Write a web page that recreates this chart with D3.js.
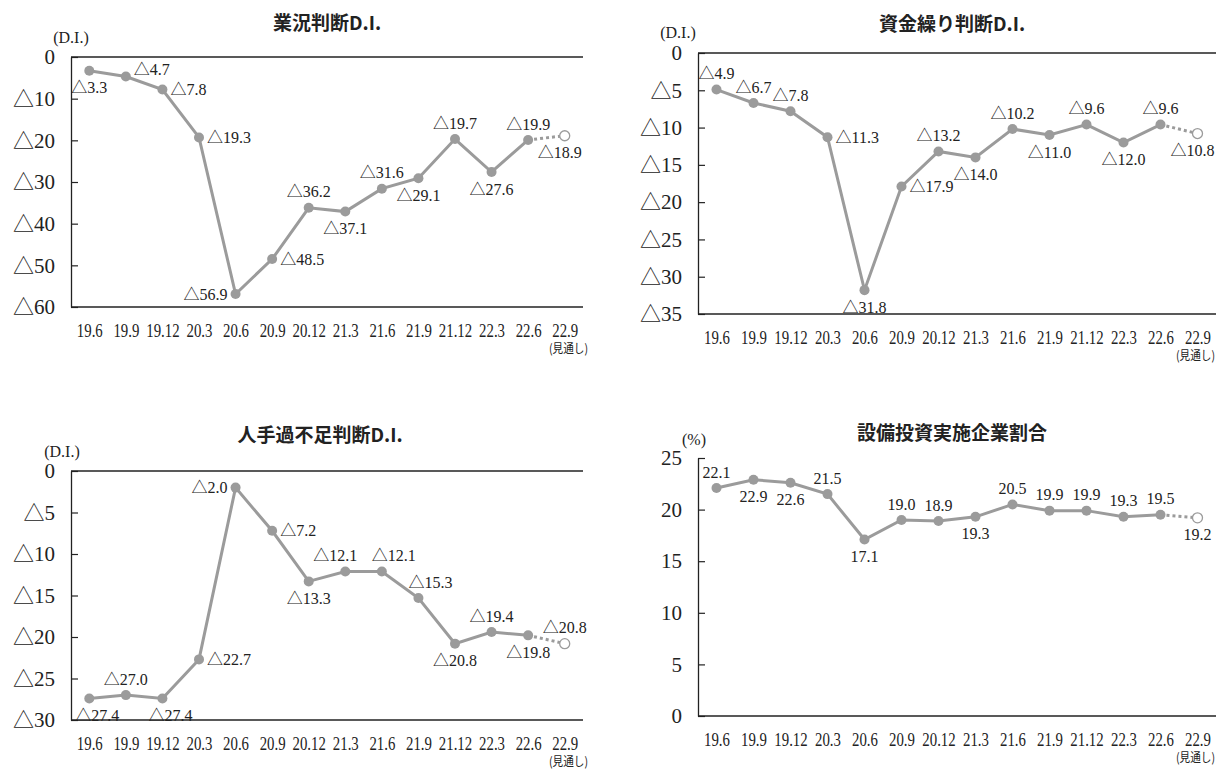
<!DOCTYPE html>
<html>
<head>
<meta charset="utf-8">
<script src="https://cdn.jsdelivr.net/npm/d3@7"></script>
<style>
  body { margin: 0; background: #fff; }
  .serif { font-family: "Liberation Serif", "Noto Sans CJK JP", serif; }
  .sans { font-family: "Noto Sans CJK JP", "Noto Sans", sans-serif; }
</style>
</head>
<body>
<script>
// periods on the x axis (last one is the outlook)
var periods = ["19.6","19.9","19.12","20.3","20.6","20.9","20.12","21.3","21.6","21.9","21.12","22.3","22.6","22.9"];

// 業況判断D.I.
var gyokyo = [-3.3,-4.7,-7.8,-19.3,-56.9,-48.5,-36.2,-37.1,-31.6,-29.1,-19.7,-27.6,-19.9,-18.9];
// 資金繰り判断D.I.
var shikin = [-4.9,-6.7,-7.8,-11.3,-31.8,-17.9,-13.2,-14.0,-10.2,-11.0,-9.6,-12.0,-9.6,-10.8];
// 人手過不足判断D.I.
var hitode = [-27.4,-27.0,-27.4,-22.7,-2.0,-7.2,-13.3,-12.1,-12.1,-15.3,-20.8,-19.4,-19.8,-20.8];
// 設備投資実施企業割合 (%)
var setsubi = [22.1,22.9,22.6,21.5,17.1,19.0,18.9,19.3,20.5,19.9,19.9,19.3,19.5,19.2];

// where each value label sits around its point
var gyokyoSide = ["b","ur","r","r","l","r","a","b","a","b","a","b","a","bl"];
var shikinSide = ["a","a","a","r","b","r","a","b","a","b","a","b","a","bl"];
var hitodeSide = ["br","a","br","r","l","r","b","al","ar","ar","b","a","b","a"];
var setsubiSide = ["a","b","b","a","b","a","a","b","a","a","a","a","a","b"];

var grey = "#9b9b9b";

var svg = d3.select("body").append("svg")
    .attr("width", 1217)
    .attr("height", 769);

function fmt(v){
    if (v < 0) return "\u25B3" + d3.format(".1f")(Math.abs(v));
    return d3.format(".1f")(v);
}

function drawPanel(cfg){
    var g = svg.append("g");

    var x = d3.scalePoint()
        .domain(periods)
        .range([cfg.left, cfg.right])
        .padding(0.5);
    var y = d3.scaleLinear()
        .domain(cfg.yDomain)
        .range([cfg.bottom, cfg.top]);

    // title
    g.append("text")
        .attr("class", "sans")
        .attr("x", cfg.titleX)
        .attr("y", cfg.titleY)
        .attr("text-anchor", "middle")
        .attr("font-weight", "bold")
        .attr("font-size", "19px")
        .attr("fill", "#222")
        .text(cfg.title);

    // unit
    g.append("text")
        .attr("class", "serif")
        .attr("x", cfg.unitX)
        .attr("y", cfg.unitY)
        .attr("text-anchor", "middle")
        .attr("font-size", "16px")
        .attr("fill", "#222")
        .text(cfg.unit);

    // y axis, ticks pointing inward
    var yAxis = d3.axisLeft(y)
        .tickValues(cfg.yTicks)
        .tickSizeInner(-7)
        .tickSizeOuter(0)
        .tickPadding(16)
        .tickFormat(function(d){ return d < 0 ? "\u25B3" + Math.abs(d) : d; });
    var ya = g.append("g")
        .attr("transform", "translate(" + cfg.left + ",0)")
        .call(yAxis);
    ya.attr("font-family", null);
    ya.select(".domain").attr("stroke", "#222").attr("stroke-width", 1.3);
    ya.selectAll(".tick line").attr("stroke", "#222").attr("stroke-width", 1.2);
    ya.selectAll(".tick text")
        .attr("class", "serif")
        .attr("font-size", "21px")
        .attr("fill", "#222");

    // horizontal lines (zero line on top for the D.I. charts, bottom line)
    var hl = cfg.topLine ? [cfg.yDomain[0], cfg.yDomain[1]] : [cfg.yDomain[0]];
    g.selectAll(".hline")
        .data(hl)
        .enter()
        .append("line")
        .attr("x1", cfg.left)
        .attr("x2", cfg.right)
        .attr("y1", function(d){ return y(d); })
        .attr("y2", function(d){ return y(d); })
        .attr("stroke", "#222")
        .attr("stroke-width", 1.3);

    // x labels
    var xAxis = d3.axisBottom(x).tickSize(0).tickPadding(0);
    var xa = g.append("g")
        .attr("transform", "translate(0," + (cfg.bottom + 23) + ")")
        .call(xAxis);
    xa.attr("font-family", null);
    xa.select(".domain").remove();
    xa.selectAll(".tick text")
        .attr("class", "serif")
        .attr("font-size", "19px")
        .attr("fill", "#222")
        .attr("dy", "0.35em")
        .attr("y", 0)
        .attr("transform", "scale(0.78,1)");

    var ex = Math.min(cfg.right + 5, 1215);
    g.append("text")
        .attr("class", "sans")
        .attr("x", ex)
        .attr("y", cfg.bottom + 46)
        .attr("text-anchor", "end")
        .attr("font-size", "12.5px")
        .attr("fill", "#222")
        .attr("transform", "translate(" + ex + ",0) scale(0.85,1) translate(" + (-ex) + ",0)")
        .text("(見通し)");

    var pts = cfg.values.map(function(v, i){ return {p: periods[i], v: v, i: i, side: cfg.side[i]}; });
    var n = pts.length;

    var line = d3.line()
        .x(function(d){ return x(d.p); })
        .y(function(d){ return y(d.v); });

    g.append("path")
        .datum(pts.slice(0, n - 1))
        .attr("d", line)
        .attr("fill", "none")
        .attr("stroke", grey)
        .attr("stroke-width", 3);

    g.append("path")
        .datum(pts.slice(n - 2))
        .attr("d", line)
        .attr("fill", "none")
        .attr("stroke", grey)
        .attr("stroke-width", 3)
        .attr("stroke-dasharray", "3,3");

    g.selectAll(".pt")
        .data(pts)
        .enter()
        .append("circle")
        .attr("cx", function(d){ return x(d.p); })
        .attr("cy", function(d){ return y(d.v); })
        .attr("r", 5)
        .attr("fill", function(d){ return d.i == n - 1 ? "#fff" : grey; })
        .attr("stroke", grey)
        .attr("stroke-width", function(d){ return d.i == n - 1 ? 1.3 : 0; });

    // value labels
    var dxBySide = {r: 8, ur: 8, l: -8, ar: 12, al: -10, bl: -5, br: 8, a: 0, b: 0};
    g.selectAll(".lbl")
        .data(pts)
        .enter()
        .append("text")
        .attr("class", "serif")
        .attr("font-size", "16px")
        .attr("fill", "#222")
        .attr("dy", "0.35em")
        .attr("x", function(d){ return x(d.p) + dxBySide[d.side]; })
        .attr("y", function(d){
            var py = y(d.v);
            if (d.side == "a" || d.side == "ar" || d.side == "al") return py - 16;
            if (d.side == "b" || d.side == "bl" || d.side == "br") return py + 17;
            if (d.side == "ur") return py - 7;
            return py;
        })
        .attr("text-anchor", function(d){
            if (d.side == "r" || d.side == "ur") return "start";
            if (d.side == "l") return "end";
            return "middle";
        })
        .text(function(d){ return fmt(d.v); });
}

drawPanel({
    title: "業況判断D.I.", unit: "(D.I.)",
    values: gyokyo, side: gyokyoSide,
    yDomain: [-60, 0], yTicks: [-60,-50,-40,-30,-20,-10,0],
    left: 71, right: 583, top: 57, bottom: 307,
    titleX: 327, titleY: 30, unitX: 71, unitY: 43, topLine: true
});

drawPanel({
    title: "資金繰り判断D.I.", unit: "(D.I.)",
    values: shikin, side: shikinSide,
    yDomain: [-35, 0], yTicks: [-35,-30,-25,-20,-15,-10,-5,0],
    left: 698, right: 1216, top: 53, bottom: 314,
    titleX: 952, titleY: 31, unitX: 678, unitY: 38, topLine: true
});

drawPanel({
    title: "人手過不足判断D.I.", unit: "(D.I.)",
    values: hitode, side: hitodeSide,
    yDomain: [-30, 0], yTicks: [-30,-25,-20,-15,-10,-5,0],
    left: 71, right: 583, top: 471, bottom: 720,
    titleX: 320, titleY: 442, unitX: 62, unitY: 457, topLine: true
});

drawPanel({
    title: "設備投資実施企業割合", unit: "(%)",
    values: setsubi, side: setsubiSide,
    yDomain: [0, 25], yTicks: [0,5,10,15,20,25],
    left: 698, right: 1216, top: 458, bottom: 716,
    titleX: 952, titleY: 440, unitX: 694, unitY: 445, topLine: false
});
</script>
</body>
</html>
